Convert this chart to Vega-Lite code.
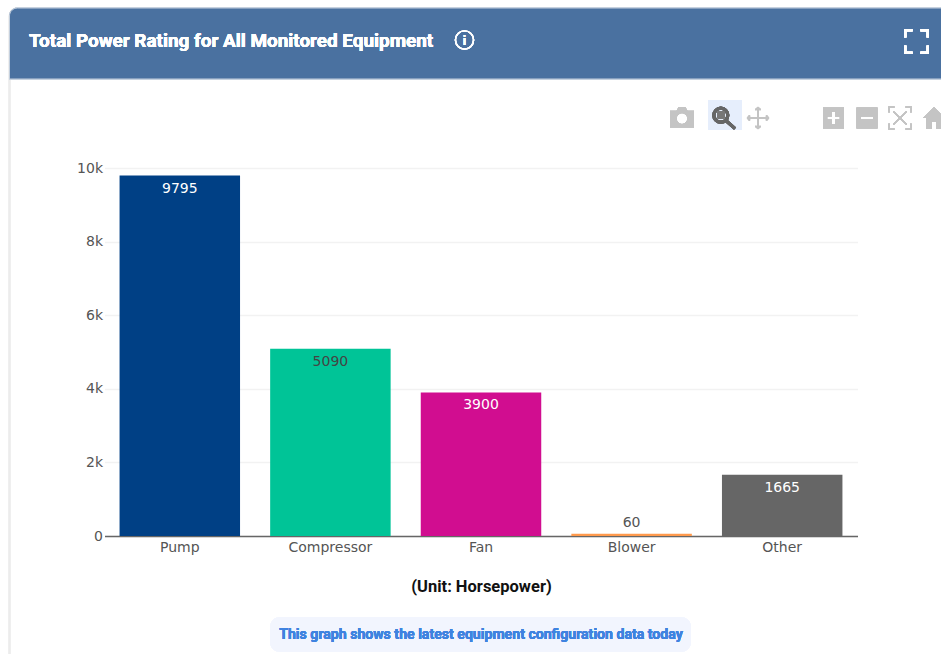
{
  "$schema": "https://vega.github.io/schema/vega-lite/v6.json",
  "width": 753,
  "height": 368,
  "autosize": "none",
  "padding": {"left": 104.5, "top": 168, "right": 83.5, "bottom": 118},
  "background": "#ffffff",
  "data": {"values": [
    {"equipment": "Pump", "power": 9795},
    {"equipment": "Compressor", "power": 5090},
    {"equipment": "Fan", "power": 3900},
    {"equipment": "Blower", "power": 60},
    {"equipment": "Other", "power": 1665}
  ]},
  "config": {"view": {"stroke": null}},
  "layer": [
    {
      "description": "Card outline",
      "mark": {"type": "rect", "x": -95, "x2": 850, "y": -160, "y2": 500, "fill": null, "stroke": "#ececec", "strokeWidth": 1.5, "cornerRadiusTopLeft": 8, "clip": false},
      "encoding": {}
    },
    {
      "description": "Card header band",
      "mark": {"type": "rect", "x": -95, "x2": 850, "y": -160, "y2": -89, "fill": "#4a71a0", "stroke": "#c4d0de", "strokeWidth": 1, "cornerRadiusTopLeft": 8, "clip": false},
      "encoding": {}
    },
    {
      "description": "Card title",
      "mark": {"type": "text", "x": -75.5, "y": -127, "text": "Total Power Rating for All Monitored Equipment", "font": "Roboto", "fontWeight": "bold", "fontSize": 18.9, "color": "#ffffff", "align": "left", "baseline": "middle"},
      "encoding": {}
    },
    {
      "description": "Info icon in the header",
      "mark": {"type": "point", "shape": "circle", "x": 360, "y": -128, "size": 330, "filled": false, "stroke": "#ffffff", "strokeWidth": 1.4, "opacity": 1, "clip": false},
      "encoding": {}
    },
    {
      "mark": {"type": "text", "x": 360, "y": -127, "text": "i", "font": "Roboto", "fontWeight": "bold", "fontSize": 13, "color": "#ffffff", "align": "center", "baseline": "middle"},
      "encoding": {}
    },
    {
      "description": "Fullscreen corners",
      "mark": {"type": "point", "shape": "M-1 -0.35V-1H-0.35M0.35 -1H1V-0.35M1 0.35V1H0.35M-0.35 1H-1V0.35", "x": 812, "y": -126.5, "size": 500, "filled": false, "stroke": "#ffffff", "strokeWidth": 2.4, "opacity": 1, "clip": false},
      "encoding": {}
    },
    {
      "description": "Active zoom tool highlight",
      "mark": {"type": "rect", "x": 603.5, "x2": 637.5, "y": -68, "y2": -38, "fill": "#e6eefc"},
      "encoding": {}
    },
    {
      "description": "Camera tool",
      "mark": {"type": "point", "shape": "M-1 -0.6H-0.45L-0.3 -0.9H0.3L0.45 -0.6H1V0.8H-1Z M0.45 0.05A0.45 0.45 0 1 0 -0.45 0.05A0.45 0.45 0 1 0 0.45 0.05Z", "x": 577.5, "y": -50, "size": 576, "filled": true, "fill": "#c4c4c4", "opacity": 1, "clip": false},
      "encoding": {}
    },
    {
      "description": "Zoom tool lens and handle",
      "mark": {"type": "point", "shape": "M0.25 -0.25A0.62 0.62 0 1 0 -1 -0.25A0.62 0.62 0 1 0 0.25 -0.25Z M0.1 0.25L0.9 0.95", "x": 620.5, "y": -50, "size": 500, "filled": false, "stroke": "#666666", "strokeWidth": 3.2, "opacity": 1, "clip": false},
      "encoding": {}
    },
    {
      "mark": {"type": "point", "shape": "square", "x": 616.5, "y": -53, "size": 50, "filled": true, "fill": "#777777", "opacity": 1, "clip": false},
      "encoding": {}
    },
    {
      "description": "Pan tool",
      "mark": {"type": "point", "shape": "M-1 0H1M0 -1V1M-0.8 -0.25L-1 0L-0.8 0.25M0.8 -0.25L1 0L0.8 0.25M-0.25 -0.8L0 -1L0.25 -0.8M-0.25 0.8L0 1L0.25 0.8", "x": 653.5, "y": -50, "size": 420, "filled": false, "stroke": "#c4c4c4", "strokeWidth": 1.6, "opacity": 1, "clip": false},
      "encoding": {}
    },
    {
      "description": "Zoom-in tool",
      "mark": {"type": "point", "shape": "M-1 -1H1V1H-1Z M-0.6 -0.15V0.15H-0.15V0.6H0.15V0.15H0.6V-0.15H0.15V-0.6H-0.15V-0.15Z", "x": 729, "y": -50, "size": 441, "filled": true, "fill": "#c4c4c4", "opacity": 1, "clip": false},
      "encoding": {}
    },
    {
      "description": "Zoom-out tool",
      "mark": {"type": "point", "shape": "M-1 -1H1V1H-1Z M-0.6 -0.15V0.15H0.6V-0.15Z", "x": 762.5, "y": -50, "size": 441, "filled": true, "fill": "#c4c4c4", "opacity": 1, "clip": false},
      "encoding": {}
    },
    {
      "description": "Autoscale tool",
      "mark": {"type": "point", "shape": "M-1 -0.5V-1H-0.5M0.5 -1H1V-0.5M1 0.5V1H0.5M-0.5 1H-1V0.5M-0.6 -0.6L0.6 0.6M0.6 -0.6L-0.6 0.6", "x": 795.5, "y": -50, "size": 480, "filled": false, "stroke": "#c4c4c4", "strokeWidth": 1.4, "opacity": 1, "clip": false},
      "encoding": {}
    },
    {
      "description": "Reset tool",
      "mark": {"type": "point", "shape": "M-1 0L0 -1L1 0H0.7V1H0.2V0.35H-0.2V1H-0.7V0Z", "x": 829.5, "y": -50, "size": 484, "filled": true, "fill": "#c4c4c4", "opacity": 1, "clip": false},
      "encoding": {}
    },
    {
      "description": "Note pill under the chart",
      "mark": {"type": "rect", "x": 165.5, "x2": 586.5, "y": 449, "y2": 484, "fill": "#f2f5fe", "cornerRadius": 10, "clip": false},
      "encoding": {}
    },
    {
      "mark": {"type": "text", "x": 376.5, "y": 467, "text": "This graph shows the latest equipment configuration data today", "font": "Roboto", "fontWeight": "bold", "fontSize": 14.1, "color": "#3f83e0", "align": "center", "baseline": "middle"},
      "encoding": {}
    },
    {
      "description": "One bar per equipment type",
      "mark": {"type": "bar"},
      "encoding": {
        "x": {
          "field": "equipment",
          "type": "nominal",
          "sort": null,
          "scale": {"paddingInner": 0.2, "paddingOuter": 0.1},
          "axis": {
            "title": "(Unit: Horsepower)",
            "titleFont": "Roboto",
            "titleFontWeight": "bold",
            "titleFontSize": 16.5,
            "titleColor": "#111111",
            "titlePadding": 24,
            "labelAngle": 0,
            "labelFont": "DejaVu Sans",
            "labelFontSize": 14,
            "labelColor": "#555555",
            "labelPadding": 4,
            "ticks": false,
            "domainColor": "#666666",
            "domainWidth": 1.5,
            "grid": false
          }
        },
        "y": {
          "field": "power",
          "type": "quantitative",
          "scale": {"domain": [0, 10000]},
          "axis": {
            "title": null,
            "values": [0, 2000, 4000, 6000, 8000, 10000],
            "labelExpr": "datum.value === 0 ? '0' : datum.value / 1000 + 'k'",
            "labelFont": "DejaVu Sans",
            "labelFontSize": 14,
            "labelColor": "#555555",
            "labelPadding": 2,
            "ticks": false,
            "domain": false,
            "gridColor": "#f2f2f2",
            "gridWidth": 1.5
          }
        },
        "color": {
          "field": "equipment",
          "type": "nominal",
          "legend": null,
          "scale": {
            "domain": ["Pump", "Compressor", "Fan", "Blower", "Other"],
            "range": ["#004085", "#00c497", "#d10d90", "#ff9a4d", "#666666"]
          }
        }
      }
    },
    {
      "description": "Value labels inside the taller bars",
      "transform": [{"filter": "datum.power >= 1000"}],
      "mark": {"type": "text", "baseline": "top", "dy": 6, "font": "DejaVu Sans", "fontSize": 14},
      "encoding": {
        "x": {"field": "equipment", "type": "nominal", "sort": null},
        "y": {"field": "power", "type": "quantitative"},
        "text": {"field": "power", "type": "quantitative", "format": "d"},
        "color": {"condition": {"test": "datum.equipment === 'Compressor'", "value": "#444444"}, "value": "#ffffff"}
      }
    },
    {
      "description": "Value label above the very short bar",
      "transform": [{"filter": "datum.power < 1000"}],
      "mark": {"type": "text", "baseline": "bottom", "dy": -4, "font": "DejaVu Sans", "fontSize": 14, "color": "#555555"},
      "encoding": {
        "x": {"field": "equipment", "type": "nominal", "sort": null},
        "y": {"field": "power", "type": "quantitative"},
        "text": {"field": "power", "type": "quantitative", "format": "d"}
      }
    }
  ]
}
